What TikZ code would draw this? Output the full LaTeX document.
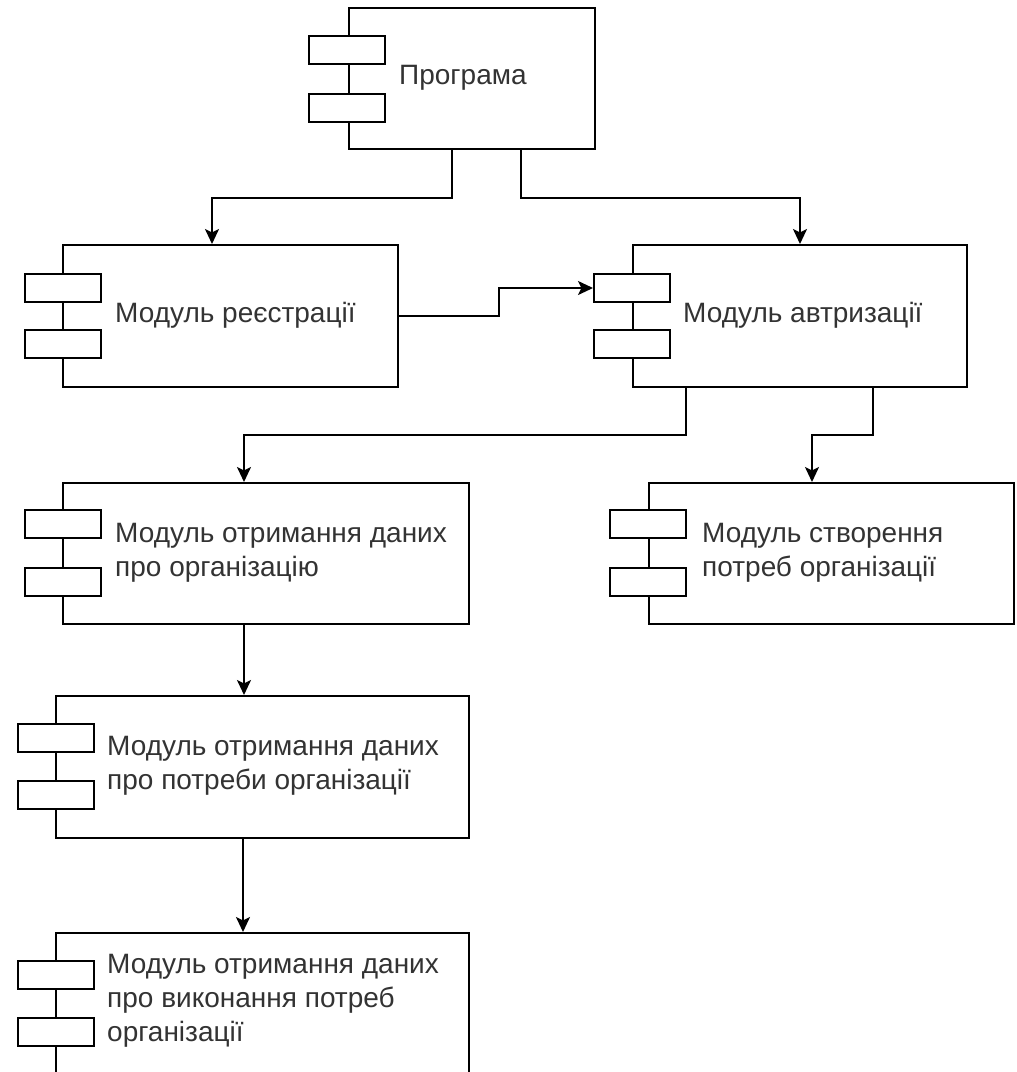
\documentclass[tikz,border=0pt]{standalone}
\usepackage{fontspec}
\setmainfont{Liberation Sans}
\usetikzlibrary{arrows.meta}
\definecolor{txt}{HTML}{333333}
\begin{document}
\begin{tikzpicture}[x=1pt,y=-1pt,
  box/.style={draw, line width=2pt, rectangle, inner sep=0pt, anchor=north west},
  port/.style={draw, fill=white, line width=2pt, rectangle, inner sep=0pt, minimum width=76pt, minimum height=28pt, anchor=north west},
  lbl/.style={anchor=west, align=left, inner sep=0pt, text=txt, font=\fontsize{28}{34}\selectfont},
  arr/.style={line width=2pt, -{Stealth[length=15pt,width=14pt,inset=3.5pt]}}]
\useasboundingbox (0,0) rectangle (1017,1072);
\clip (0,0) rectangle (1017,1072);
\fill[white] (0,0) rectangle (1017,1072);

% main boxes
\node[box, minimum width=246pt, minimum height=141pt] (prog) at (348,7) {};
\node[box, minimum width=335pt, minimum height=142pt] (reg) at (62,244) {};
\node[box, minimum width=334pt, minimum height=142pt] (auth) at (632,244) {};
\node[box, minimum width=406pt, minimum height=141pt] (org) at (62,482) {};
\node[box, minimum width=365pt, minimum height=141pt] (need) at (648,482) {};
\node[box, minimum width=413pt, minimum height=142pt] (req) at (55,695) {};
\node[box, minimum width=413pt, minimum height=170pt] (exe) at (55,932) {};

% ports
\node[port] (progp1) at (308,35) {};
\node[port] (progp2) at (308,93) {};
\node[port] (regp1) at (24,273) {};
\node[port] (regp2) at (24,329) {};
\node[port] (authp1) at (593,273) {};
\node[port] (authp2) at (593,329) {};
\node[port] (orgp1) at (24,509) {};
\node[port] (orgp2) at (24,567) {};
\node[port] (needp1) at (609,509) {};
\node[port] (needp2) at (609,567) {};
\node[port] (reqp1) at (17,723) {};
\node[port] (reqp2) at (17,780) {};
\node[port] (exep1) at (17,960) {};
\node[port] (exep2) at (17,1017) {};

% labels
\node[lbl] (progt) at (399,78) {Програма};
\node[lbl] (regt) at (115,315) {Модуль реєстрації};
\node[lbl] (autht) at (683,315) {Модуль автризації};
\node[lbl] (orgt) at (115,553) {Модуль отримання даних\\про організацію};
\node[lbl] (needt) at (702,553) {Модуль створення\\потреб організації};
\node[lbl] (reqt) at (107,766) {Модуль отримання даних\\про потреби організації};
\node[lbl] (exet) at (107,1001) {Модуль отримання даних\\про виконання потреб\\організації};

% connectors
\draw[arr] ([xshift=104pt]prog.south west) -- ++(0,48) -| ([xshift=150pt]reg.north west);
\draw[arr] ([xshift=173pt]prog.south west) -- ++(0,48) -| (auth.north);
\draw[arr] (reg.east) -- ++(100,0) |- (authp1.west);
\draw[arr] ([xshift=54pt]auth.south west) -- ++(0,47) -| ([xshift=182pt]org.north west);
\draw[arr] ([xshift=241pt]auth.south west) -- ++(0,47) -| ([xshift=164pt]need.north west);
\path ([xshift=182pt]org.south west) coordinate (o1);
\draw[arr] (o1) -- (o1 |- req.north);
\path ([xshift=188pt]req.south west) coordinate (r1);
\draw[arr] (r1) -- (r1 |- exe.north);
\end{tikzpicture}
\end{document}
